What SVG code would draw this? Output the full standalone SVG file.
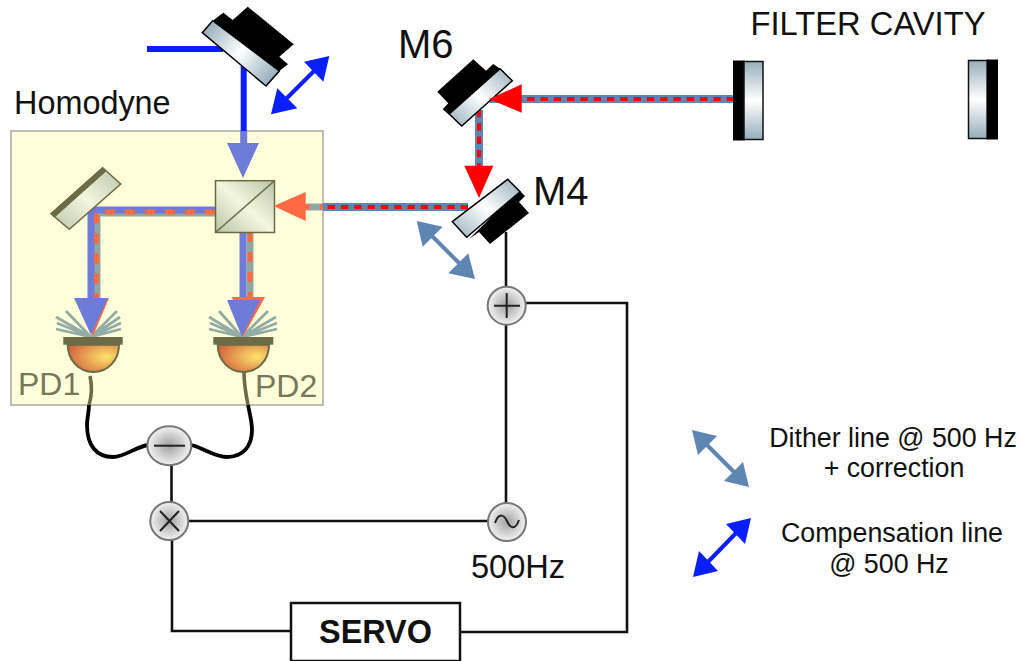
<svg xmlns="http://www.w3.org/2000/svg" width="1021" height="661" viewBox="0 0 1021 661">
<style>
text{font-family:"Liberation Sans",Arial,sans-serif;fill:#111}
.w{fill:none;stroke:#111;stroke-width:2.6}
.wo{fill:none;stroke:#6b6b45;stroke-width:3.6}
.wk{fill:none;stroke:#000;stroke-width:3.8}
.d{fill:none;stroke:#ff0000;stroke-width:4;stroke-dasharray:7.300 6}
.do{fill:none;stroke:#ff6a40;stroke-width:5;stroke-dasharray:10 10}
.bb{fill:none;stroke:#5f86b3;stroke-width:8}
.bg{fill:none;stroke:#8fa9a2;stroke-width:7}
.bp{fill:none;stroke:#6e7bd8;stroke-width:7}
.fan{stroke:#93aca6;stroke-width:2.800;fill:none}
.j{stroke:#777;stroke-width:2}
.s{stroke:#222;stroke-width:2;fill:none}
.l{text-anchor:middle;font-size:26.800px}
</style>
<defs>
<linearGradient id="gh" x1="0" y1="0" x2="0" y2="1"><stop offset="0" stop-color="#96aebb"/><stop offset=".5" stop-color="#ffffff"/><stop offset="1" stop-color="#96aebb"/></linearGradient>
<linearGradient id="gt" gradientUnits="userSpaceOnUse" x1="207" y1="26" x2="273" y2="78"><stop offset="0" stop-color="#96aebb"/><stop offset=".5" stop-color="#ffffff"/><stop offset="1" stop-color="#96aebb"/></linearGradient>
<linearGradient id="gm" x1="0" y1="1" x2="1" y2="0"><stop offset="0" stop-color="#96aebb"/><stop offset=".5" stop-color="#ffffff"/><stop offset="1" stop-color="#96aebb"/></linearGradient>
<linearGradient id="gy" x1="0" y1="1" x2="1" y2="0"><stop offset="0" stop-color="#b9c4a8"/><stop offset=".5" stop-color="#f4f6de"/><stop offset="1" stop-color="#b9c4a8"/></linearGradient>
<radialGradient id="gd" cx=".75" cy=".45" r=".8"><stop offset="0" stop-color="#fde36a"/><stop offset="1" stop-color="#d2603c"/></radialGradient>
<radialGradient id="gj"><stop offset="0" stop-color="#a0a0a0"/><stop offset="1" stop-color="#f2f2f2"/></radialGradient>
</defs>
<g id="homodyne-box"><rect x="11" y="131" width="312" height="274" fill="#ffffdc" stroke="#a9a9a0" stroke-width="1.500"/></g>
<g id="connectors">
<path class="wk" d="M89 405C89 412 87 418 87 425C87 445 96 457 113 457C125 457 135 447 148 445"/>
<path class="wk" d="M248 405C250 415 252 422 252 430C252 446 243 457 227 457C214 457 204 448 191 445"/>
<path class="wo" d="M90 376C92 385 92 395 89 405"/>
<path class="wo" d="M244 372C244 385 246 395 248 405"/>
<path class="w" d="M171.500 465V503M172 540V631H291M189 521H488M506 232V287M506 325V503M526 303H627V632H460"/>
<path d="M147 49H223" fill="none" stroke="#0a1eff" stroke-width="6"/>
<path d="M243.700 66V131" fill="none" stroke="#0a1eff" stroke-width="6"/>
<path class="bp" d="M243.700 131V146"/>
<path class="bb" d="M490 99H734M479 110V168"/><path class="d" d="M734 99H490M479 110V168"/>
<path class="bb" d="M323 207H468"/><path class="d" d="M468 207H323"/>
<path class="bg" d="M300 207H323"/><path class="do" d="M300 207H323"/>
<path class="bg" d="M215 213H97V298"/>
<path class="bp" d="M215 210H91V298"/>
<path class="do" d="M215 212H96.500V298"/>
<path class="bg" d="M250 232V300"/>
<path class="bp" d="M243 232V300"/>
<path class="do" d="M250 232V300"/>
</g>
<g id="mirror-top">
<polygon points="212.700,20.700 223.300,12.700 232.700,20 247.700,6.700 293.700,44.300 279.300,56.700 288,64.300 279.300,71" fill="#000"/>
<polygon points="212.700,20.700 279.300,71 266,86 202.300,32.700" fill="url(#gt)" stroke="#000" stroke-width="1.500"/>
</g>
<g id="arrow-compensation-top">
<path d="M317 68L284 101" stroke="#0a1eff" stroke-width="4"/>
<polygon points="329.300,56 304,61.700 323.300,81.700" fill="#0a1eff"/>
<polygon points="271,114.300 277.300,88.300 297.300,108.300" fill="#0a1eff"/>
</g>
<g id="M6">
<polygon points="473.300,59.300 486,70.700 493.300,64 504.300,71.700 449.300,115 442.700,109.300 448.300,103.300 437.300,91.700" fill="#000"/>
<polygon points="500,68.700 512.300,80.700 461.700,126 449.300,114" fill="url(#gm)" stroke="#000" stroke-width="1.500"/>
<polygon points="489,99 521.700,84.300 521.700,112.700" fill="#ff0000"/>
<text x="398" y="58" font-size="40">M6</text>
</g>
<g id="M4">
<polygon points="519,190 525,196 519,202 529,213 490,244 479,232 469,239" fill="#000"/>
<polygon points="507.700,179.300 520,191.700 466.700,237.300 452.300,221.700" fill="url(#gm)" stroke="#000" stroke-width="1.500"/>
<polygon points="464.300,165.700 493.300,165.700 479,198" fill="#ff0000"/>
<text x="533" y="205" font-size="40">M4</text>
</g>
<g id="arrow-dither">
<path d="M428 232L464 268" stroke="#5f86b3" stroke-width="4"/>
<polygon points="416.700,221 442.700,226.700 422.700,246.700" fill="#5f86b3"/>
<polygon points="475,279 448.300,273.300 468.300,253.300" fill="#5f86b3"/>
</g>
<g id="filter-cavity">
<text x="868" y="35" font-size="32.700" text-anchor="middle">FILTER CAVITY</text>
<rect x="733.500" y="61" width="11" height="79" fill="#000" stroke="#000"/>
<rect x="744" y="61.500" width="19" height="78" fill="url(#gh)" stroke="#111" stroke-width="1.500"/>
<rect x="968.500" y="60.500" width="19" height="78" fill="url(#gh)" stroke="#111" stroke-width="1.500"/>
<rect x="987" y="60" width="10.500" height="79" fill="#000" stroke="#000"/>
</g>
<g id="homodyne">
<text x="14" y="114" font-size="32.400">Homodyne</text>
<g id="mirror-h">
<polygon points="102.700,167.700 120.700,184 69.300,229.300 51,213.700" fill="url(#gy)" stroke="#6b6b45" stroke-width="1.500"/>
<polygon points="102.700,167.700 106,171 54.500,217 51,213.700" fill="#6b6b45" stroke="#6b6b45"/>
</g>
<g id="beam-splitter">
<rect x="215.500" y="180.700" width="59" height="51.800" fill="url(#gy)" stroke="#6b6b45" stroke-width="1.500"/>
<path d="M215.500 232.500L274.500 180.700" stroke="#6b6b45" stroke-width="1.500"/>
</g>
<polygon points="227,143 259,143 243,178" fill="#6e7bd8"/>
<polygon points="273.500,206 305.700,192 305.700,221" fill="#ff6a40"/>
<g id="PD1">
<path class="fan" d="M91 337L56 317M91 337L57 323M91 337L56 329M91 337L66 311M91 337L120 317M91 337L121 323M91 337L121 329M91 337L117 311"/>
<polygon points="78,298 109,298 93,336" fill="#ff6a40"/>
<polygon points="74,298 108,298 91,335" fill="#6e7bd8"/>
<path d="M67.700 344.700H119C119 360 108 372 93.300 372C79 372 67.700 360 67.700 344.700Z" fill="url(#gd)" stroke="#6b6b45" stroke-width="2"/>
<rect x="63.300" y="337" width="59.400" height="7.700" fill="#6b6b45"/>
<text x="18" y="395" font-size="32" style="fill:#77775a">PD1</text>
</g>
<g id="PD2">
<path class="fan" d="M242 337L209 317M242 337L210 323M242 337L209 329M242 337L219 311M242 337L276 317M242 337L277 323M242 337L277 329M242 337L268 311"/>
<polygon points="232,297 265,297 243,337" fill="#ff6a40"/>
<polygon points="227,300 260,300 242,337" fill="#6e7bd8"/>
<path d="M217.700 344.700H269C269 360 258 372 243.300 372C229 372 217.700 360 217.700 344.700Z" fill="url(#gd)" stroke="#6b6b45" stroke-width="2"/>
<rect x="213.300" y="337" width="60" height="7.700" fill="#6b6b45"/>
<text x="255" y="397" font-size="32" style="fill:#77775a">PD2</text>
</g>
</g>
<g id="junction-plus">
<circle class="j" cx="506.700" cy="305.700" r="19" fill="url(#gj)"/>
<path class="s" d="M494 305.700H520M506.700 293V318"/>
</g>
<g id="junction-minus">
<ellipse class="j" cx="169.300" cy="445.700" rx="22" ry="19.500" fill="url(#gj)"/>
<path class="s" d="M154 445.700H185"/>
</g>
<g id="junction-times">
<circle class="j" cx="169.300" cy="521" r="19" fill="url(#gj)"/>
<path class="s" d="M160 511L179 531M179 511L160 531"/>
</g>
<g id="oscillator">
<circle class="j" cx="507" cy="522" r="19" fill="url(#gj)"/>
<path class="s" d="M495 523C499 512 504 515 507 521C510 528 515 531 519 520"/>
<text x="518" y="578" font-size="32.600" text-anchor="middle">500Hz</text>
</g>
<g id="servo">
<rect x="291" y="603" width="169" height="58" fill="#fff" stroke="#111" stroke-width="2.500"/>
<text x="375.500" y="643" font-size="32.400" font-weight="700" text-anchor="middle">SERVO</text>
</g>
<g id="legend-dither">
<path d="M703 441L738 476" stroke="#5f86b3" stroke-width="4"/>
<polygon points="692,430 717,436 698,455" fill="#5f86b3"/>
<polygon points="749,487 724,481 743,462" fill="#5f86b3"/>
<text class="l" x="893" y="447">Dither line @ 500 Hz</text>
<text class="l" x="894" y="477">+ correction</text>
</g>
<g id="legend-compensation">
<path d="M739 530L705 565" stroke="#0a1eff" stroke-width="4"/>
<polygon points="751,518 726,524 745,544" fill="#0a1eff"/>
<polygon points="693,577 699,551 718,571" fill="#0a1eff"/>
<text class="l" x="892" y="542">Compensation line</text>
<text class="l" x="889" y="573">@ 500 Hz</text>
</g>
</svg>
